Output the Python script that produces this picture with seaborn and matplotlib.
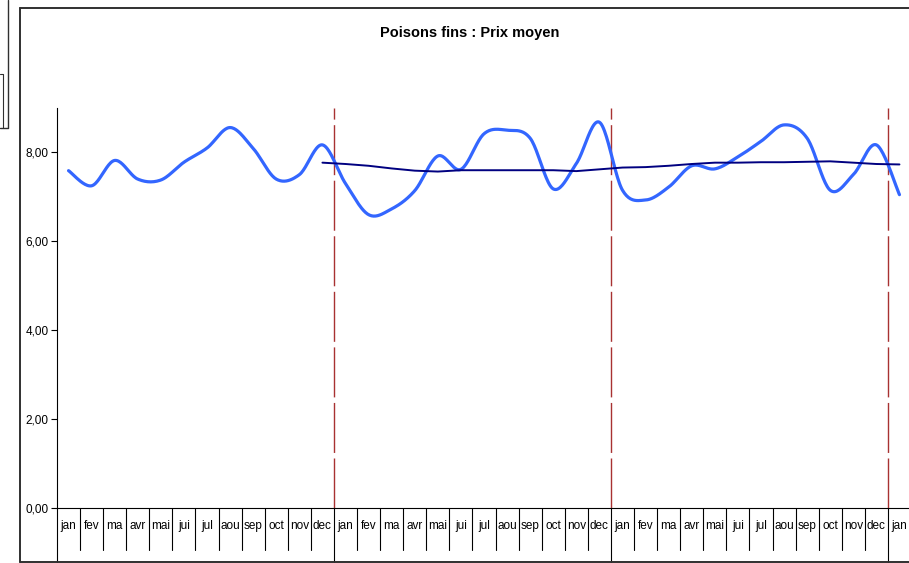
import numpy as np
import pandas as pd
import seaborn as sns
import matplotlib
matplotlib.use("Agg")
import matplotlib.pyplot as plt
from matplotlib.lines import Line2D
from matplotlib.transforms import blended_transform_factory

# data
months = ["jan", "fev", "ma", "avr", "mai", "jui", "jul", "aou", "sep", "oct", "nov", "dec"] * 3 + ["jan"]
prix = [7.59, 7.25, 7.82, 7.40, 7.38, 7.78, 8.10, 8.56, 8.09, 7.40, 7.50, 8.17,
        7.30, 6.60, 6.73, 7.14, 7.92, 7.62, 8.42, 8.50, 8.32, 7.18, 7.75, 8.68,
        7.15, 6.93, 7.22, 7.70, 7.63, 7.90, 8.25, 8.62, 8.32, 7.15, 7.50, 8.17,
        7.05]
# moving average, starts at the first dec
moy_start = 11
moyenne = [7.77, 7.74, 7.70, 7.64, 7.59, 7.57, 7.60, 7.60, 7.60, 7.60, 7.60, 7.58,
           7.62, 7.66, 7.67, 7.70, 7.74, 7.77, 7.77, 7.78, 7.78, 7.79, 7.80, 7.77,
           7.74, 7.73]
year_breaks = [11.5, 23.5, 35.5]
yticks = [0, 2, 4, 6, 8]


def smooth(x, y, n=24):
    # excel style smoothed line (bezier through the points)
    x = np.asarray(x, float); y = np.asarray(y, float)
    P = np.column_stack([x, y])
    P = np.vstack([P[0], P, P[-1]])
    out = []
    t = np.linspace(0, 1, n)[:, None]
    for i in range(1, len(P) - 2):
        p0, p1 = P[i], P[i + 1]
        c1 = p0 + (P[i + 1] - P[i - 1]) / 6
        c2 = p1 - (P[i + 2] - P[i]) / 6
        seg = (1 - t) ** 3 * p0 + 3 * (1 - t) ** 2 * t * c1 + 3 * (1 - t) * t ** 2 * c2 + t ** 3 * p1
        out.append(seg if i == 1 else seg[1:])
    out = np.vstack(out)
    return out[:, 0], out[:, 1]


sns.set_theme(style="white")
plt.rcParams['font.family'] = ['Liberation Sans', 'DejaVu Sans']

W, H = 909, 563
fig = plt.figure(figsize=(W / 100, H / 100), dpi=100)
ax = fig.add_axes([57 / W, (H - 508) / H, 854 / W, 400 / H])

sx, sy = smooth(range(len(prix)), prix)
sns.lineplot(x=sx, y=sy, sort=False, estimator=None, color="#3366FF", lw=2.3, ax=ax)
mx = list(range(moy_start, moy_start + len(moyenne)))
sns.lineplot(x=mx, y=moyenne, sort=False, estimator=None, color="#000080", lw=1.4, ax=ax)

for xb in year_breaks:
    ax.axvline(xb, color="#A83232", lw=1.0, dashes=(36, 4), zorder=1)

ax.set_xlim(-0.5, len(months) - 0.5)
ax.set_ylim(0, 9)
ax.set_yticks(yticks)
ax.set_yticklabels([f"{v:.2f}".replace(".", ",") for v in yticks], fontsize=8.5, color="black")
ax.tick_params(axis="y", direction="out", length=4, width=0.8, color="black", pad=2, left=True)
ax.set_xticks([])
for s in ["top", "right"]:
    ax.spines[s].set_visible(False)
for s in ["left", "bottom"]:
    ax.spines[s].set_color("black")
    ax.spines[s].set_linewidth(0.8)
ax.grid(False)

# category labels and separators under the axis
tr = blended_transform_factory(ax.transData, ax.transAxes)
for i, m in enumerate(months):
    ax.text(i, -42 / 400 * 0.42, m, transform=tr, ha="center", va="center", fontsize=8.5, color="black")
for i in range(len(months)):
    xb = i - 0.5
    low = -55 / 400 if (xb in year_breaks or i == 0) else -42 / 400
    ax.add_line(Line2D([xb, xb], [0, low], transform=tr, color="black", lw=0.8, clip_on=False))

fig.text(469.5 / W, 1 - 33 / H, "Poisons fins : Prix moyen", ha="center", va="center",
         fontsize=10.5, fontweight="bold", color="black")

# outer chart frame and the stray box at top left
frame = dict(color="#303030", lw=1.4)
fig.add_artist(Line2D([20 / W, 20 / W], [1 - 8 / H, 1 - 562 / H], transform=fig.transFigure, **frame))
fig.add_artist(Line2D([20 / W, 1], [1 - 8 / H, 1 - 8 / H], transform=fig.transFigure, **frame))
fig.add_artist(Line2D([20 / W, 1], [1 - 562 / H, 1 - 562 / H], transform=fig.transFigure, **frame))
fig.add_artist(Line2D([8 / W, 8 / W, 0], [1, 1 - 128 / H, 1 - 128 / H], transform=fig.transFigure, color="#303030", lw=1.0))
fig.add_artist(Line2D([0, 3 / W, 3 / W], [1 - 74 / H, 1 - 74 / H, 1 - 128 / H], transform=fig.transFigure, color="#303030", lw=0.8))

fig.savefig("out.png", dpi=100)
